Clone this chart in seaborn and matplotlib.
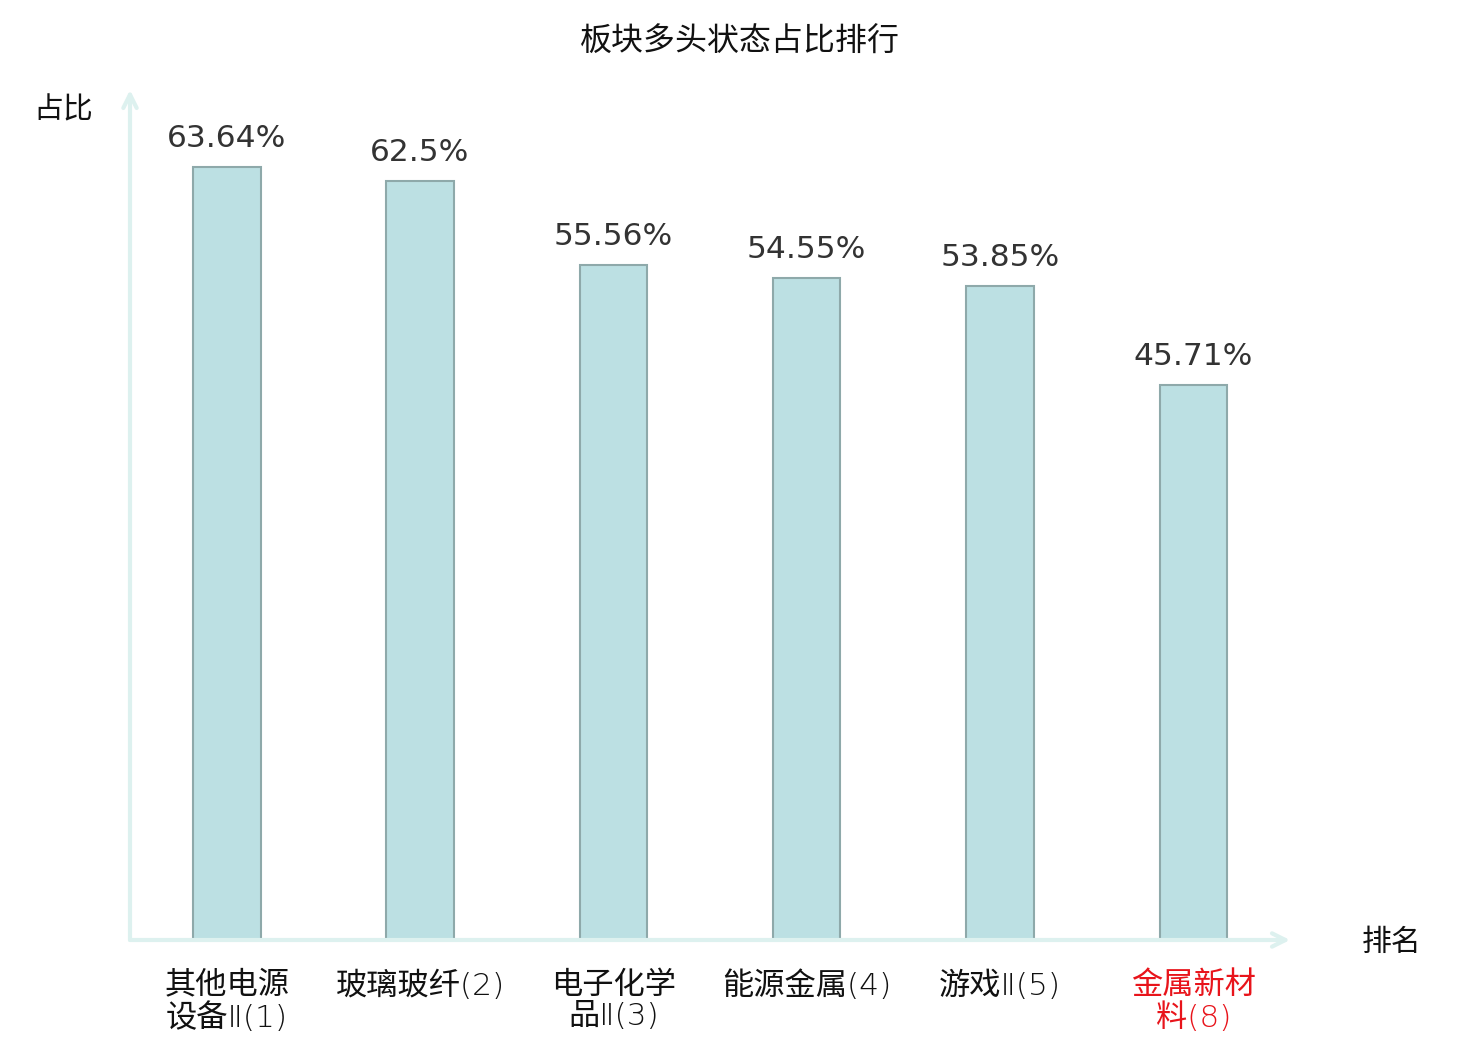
import matplotlib
matplotlib.use("Agg")
import matplotlib.pyplot as plt
import seaborn as sns
import pandas as pd

# data
sectors = ["其他电源\n设备Ⅱ(1)", "玻璃玻纤(2)", "电子化学\n品Ⅱ(3)",
           "能源金属(4)", "游戏Ⅱ(5)", "金属新材\n料(8)"]
ratios = [63.64, 62.5, 55.56, 54.55, 53.85, 45.71]
value_labels = ["63.64%", "62.5%", "55.56%", "54.55%", "53.85%", "45.71%"]
label_colors = ["#111111", "#111111", "#111111", "#111111", "#111111", "#e8141b"]

sns.set_theme(style="white")
plt.rcParams['font.family'] = ['Noto Sans CJK SC', 'DejaVu Sans']

df = pd.DataFrame({"sector": sectors, "ratio": ratios})

fig = plt.figure(figsize=(14.8, 10.4), dpi=100)
ax = fig.add_axes([130 / 1480, 100 / 1040, (1290 - 130) / 1480, (940 - 90) / 1040])

sns.barplot(data=df, x="sector", y="ratio", ax=ax, width=0.35,
            color="#bce0e3", saturation=1, edgecolor="#8ea9aa", linewidth=1.5)

ax.set_xlim(-0.5, 5.5)
ax.set_ylim(0, 70)
for s in ax.spines.values():
    s.set_visible(False)
ax.set_yticks([])
ax.set_xlabel("")
ax.set_ylabel("")
ax.tick_params(axis="x", length=0, pad=22)
ax.set_xticks(range(len(sectors)))
ax.set_xticklabels(sectors, fontsize=22.5, linespacing=1.12)
for lbl, c in zip(ax.get_xticklabels(), label_colors):
    lbl.set_color(c)
    lbl.set_fontfamily(["DejaVu Sans", "Noto Sans CJK SC"])
    lbl.set_fontweight("light")

texts = ax.bar_label(ax.containers[0], labels=value_labels, padding=10,
                     fontsize=22.5, color="#333333")
for t in texts:
    t.set_fontfamily(["DejaVu Sans"])

axis_col = "#ddf1ef"
ax.annotate("", xy=(5.5, 0), xytext=(-0.5, 0), xycoords="data",
            arrowprops=dict(arrowstyle="->,head_length=0.8,head_width=0.4",
                            color=axis_col, lw=3, shrinkA=0, shrinkB=0),
            annotation_clip=False)
ax.annotate("", xy=(-0.5, 70), xytext=(-0.5, 0), xycoords="data",
            arrowprops=dict(arrowstyle="->,head_length=0.8,head_width=0.4",
                            color=axis_col, lw=3, shrinkA=0, shrinkB=0),
            annotation_clip=False)

fig.text(740 / 1480, 1 - 42 / 1040, "板块多头状态占比排行", ha="center", va="center",
         fontsize=23, color="#111111")
fig.text(63 / 1480, 1 - 110 / 1040, "占比", ha="center", va="center",
         fontsize=21.5, color="#111111")
fig.text(1392 / 1480, 1 - 942 / 1040, "排名", ha="center", va="center",
         fontsize=21.5, color="#111111")

fig.savefig("out.png", dpi=100, facecolor="white")
